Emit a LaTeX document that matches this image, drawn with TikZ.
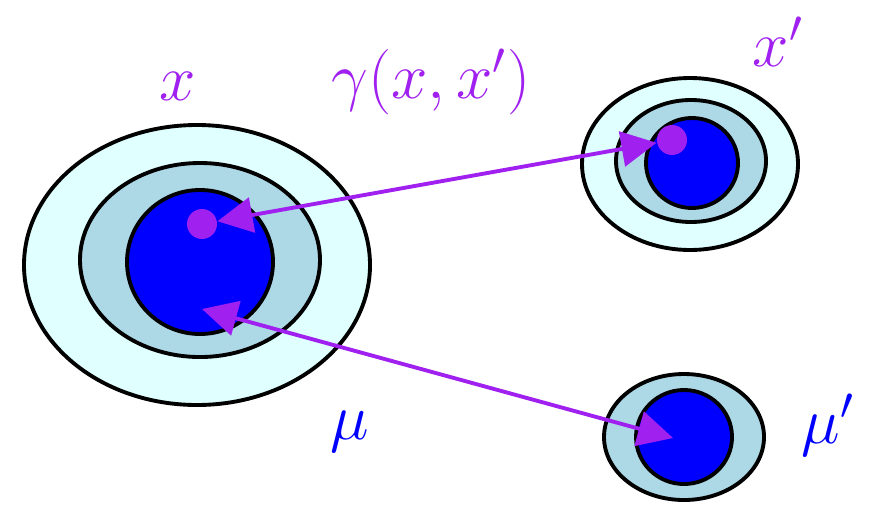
\RequirePackage{fix-cm}
\documentclass[tikz,border=0pt]{standalone}
\usepackage{amsmath,amssymb}
\usepackage{tikz}
\usetikzlibrary{arrows.meta,positioning}
\usepackage{xcolor}
\definecolor{cellcyan}{RGB}{224,255,255}
\definecolor{cellblue}{RGB}{173,216,230}
\definecolor{corepurple}{RGB}{160,32,240}

\begin{document}
\begin{tikzpicture}[x=1cm, y=-1cm,
  ring/.style={draw=black, line width=1.1pt},
  dot/.style={circle, fill=corepurple, inner sep=0pt, minimum size=3mm},
  link/.style={corepurple, line width=1.1pt, {Triangle[length=10pt,width=10pt]}-{Triangle[length=10pt,width=10pt]}},
  lbl/.style={font=\fontsize{18.6}{22}\selectfont}]
  \useasboundingbox (0,0) rectangle (8.7,5.05);
  % left cell
  \draw[ring, fill=cellcyan] (1.97,2.65) ellipse [x radius=1.73, y radius=1.40];
  \draw[ring, fill=cellblue] (2.00,2.60) ellipse [x radius=1.20, y radius=0.97];
  \draw[ring, fill=blue] (2.00,2.62) ellipse [x radius=0.73, y radius=0.72];
  % top right cell
  \draw[ring, fill=cellcyan] (6.90,1.64) ellipse [x radius=1.08, y radius=0.86];
  \draw[ring, fill=cellblue] (6.91,1.61) ellipse [x radius=0.75, y radius=0.61];
  \draw[ring, fill=blue] (6.92,1.63) ellipse [x radius=0.46, y radius=0.45];
  % bottom right cell
  \draw[ring, fill=cellblue] (6.84,4.37) ellipse [x radius=0.80, y radius=0.63];
  \draw[ring, fill=blue] (6.84,4.37) ellipse [x radius=0.48, y radius=0.47];

  \node[dot] (x) at (2.02,2.24) {};
  \node[dot] (xp) at (6.72,1.40) {};
  \coordinate (mu) at (2.02,3.09);
  \coordinate (mup) at (6.73,4.38);

  \draw[link] (x) -- (xp);
  \draw[link] (mu) -- (mup);

  \node[lbl, text=corepurple] (xlbl) at (1.78,0.86) {$x$};
  \node[lbl, text=corepurple] (gamma) at (4.31,0.82) {$\gamma(x,x')$};
  \node[lbl, text=corepurple] (xplbl) at (7.78,0.42) {$x'$};
  \node[lbl, text=blue] (mulbl) at (3.50,4.32) {$\mu$};
  \node[lbl, text=blue] (muplbl) at (8.28,4.25) {$\mu'$};
\end{tikzpicture}
\end{document}
